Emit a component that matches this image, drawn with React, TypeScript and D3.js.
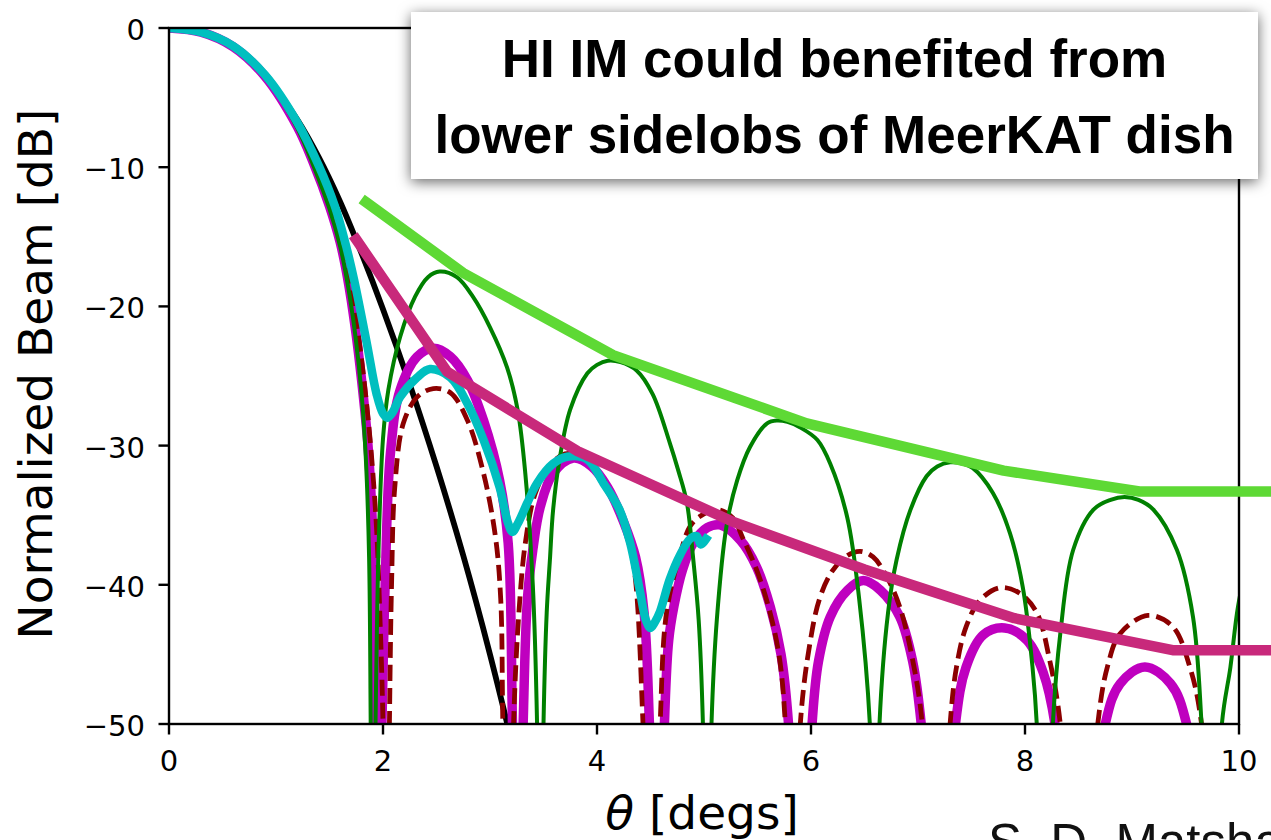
import React from "react";
import * as d3 from "d3";

type Pt = [number, number];

// axis ticks
const xTicks = [0, 2, 4, 6, 8, 10];
const xTickLabels = ["0", "2", "4", "6", "8", "10"];
const yTicks = [0, -10, -20, -30, -40, -50];
const yTickLabels = ["0", "\u221210", "\u221220", "\u221230", "\u221240", "\u221250"];

// beam patterns, [theta deg, dB]  (nulls given as -70, clipped at -50)
const blackBeam: Pt[] = [
  [0, 0], [0.3, -0.3], [0.6, -1.3], [0.9, -3.4], [1.2, -6.6], [1.4, -9.3], [1.6, -12.5],
  [1.8, -16.2], [2.0, -20.2], [2.25, -25.6], [2.5, -31.5], [2.75, -37.9], [3.0, -45.0], [3.25, -52.8],
];

const magentaBeam: Pt[] = [
  [0, 0], [0.3, -0.3], [0.6, -1.35], [0.9, -3.5], [1.2, -7.1], [1.35, -9.7], [1.5, -12.8], [1.6, -15.4],
  [1.67, -18.0], [1.74, -21.5], [1.8, -25.3], [1.86, -30], [1.9, -35.5], [1.92, -41], [1.94, -50], [1.965, -70],
  [1.99, -50], [2.02, -40], [2.07, -30.5], [2.16, -26], [2.32, -23.6], [2.47, -23.0], [2.63, -23.6], [2.79, -25.3],
  [2.94, -28.2], [3.09, -32.5], [3.17, -37], [3.21, -50], [3.26, -70],
  [3.31, -50], [3.35, -41], [3.4, -37.5], [3.47, -34.4], [3.59, -32.0], [3.78, -30.9], [3.95, -31.5], [4.1, -33],
  [4.25, -35.5], [4.36, -38], [4.44, -42], [4.49, -50], [4.56, -70],
  [4.63, -50], [4.67, -44], [4.72, -41.5], [4.8, -38.9], [4.9, -37.0], [5.03, -35.9], [5.15, -35.7], [5.34, -36.8],
  [5.49, -38.7], [5.62, -41.6], [5.72, -45], [5.79, -50], [5.9, -70],
  [6.01, -50], [6.07, -45.5], [6.18, -42.3], [6.34, -40.4], [6.49, -39.7], [6.65, -40.4], [6.83, -42.3],
  [6.95, -45.5], [7.03, -50], [7.2, -70],
  [7.35, -50], [7.45, -45.9], [7.61, -43.6], [7.81, -43.1], [8.02, -44.0], [8.17, -46.3], [8.28, -50], [8.5, -70],
  [8.75, -50], [8.89, -47.1], [9.12, -45.9], [9.36, -47.1], [9.51, -50], [9.8, -70],
];

const dashedBeam: Pt[] = [
  [0, 0], [0.3, -0.3], [0.6, -1.3], [0.9, -3.4], [1.2, -7.0], [1.4, -10.4], [1.55, -13.5], [1.68, -17.6],
  [1.76, -21.5], [1.83, -25.8], [1.89, -30.5], [1.94, -36], [1.97, -42], [2.0, -50], [2.03, -70],
  [2.06, -50], [2.08, -40], [2.11, -33], [2.19, -28.4], [2.32, -26.5], [2.47, -25.9], [2.63, -26.2], [2.79, -28.2],
  [2.94, -32.0], [3.05, -36.5], [3.1, -41], [3.12, -50], [3.17, -70],
  [3.22, -50], [3.27, -42], [3.33, -37], [3.42, -33.5], [3.55, -31.5], [3.7, -30.6], [3.85, -30.8], [4.0, -31.8],
  [4.15, -33.8], [4.28, -36.5], [4.35, -39], [4.43, -50], [4.51, -70],
  [4.59, -50], [4.65, -42], [4.78, -37.7], [4.87, -35.8], [4.96, -35.1], [5.12, -34.6], [5.27, -35.2], [5.36, -36.6],
  [5.49, -38.9], [5.6, -41.5], [5.7, -45], [5.76, -50], [5.83, -70],
  [5.9, -50], [5.99, -44.2], [6.08, -41.0], [6.2, -39.0], [6.34, -37.9], [6.46, -37.6], [6.58, -38.0], [6.7, -39.3],
  [6.83, -41.6], [6.95, -45.4], [7.04, -50], [7.17, -70],
  [7.3, -50], [7.36, -45.9], [7.45, -43.0], [7.58, -41.1], [7.77, -40.2], [7.95, -40.6], [8.11, -42.0], [8.23, -45.4],
  [8.33, -50], [8.5, -70],
  [8.68, -50], [8.77, -45.9], [8.89, -43.5], [9.15, -42.2], [9.38, -43.0], [9.54, -45.9], [9.65, -50], [9.8, -70],
];

const greenBeam: Pt[] = [
  [0, 0], [0.3, -0.3], [0.6, -1.35], [0.9, -3.5], [1.2, -7.2], [1.35, -9.9], [1.5, -13.0], [1.6, -15.7],
  [1.67, -18.4], [1.74, -22], [1.8, -26.3], [1.84, -31], [1.87, -38], [1.885, -50], [1.9, -70],
  [1.93, -50], [1.96, -37], [2.0, -29.5], [2.05, -26], [2.16, -22.2], [2.3, -19.3], [2.42, -17.9], [2.53, -17.5],
  [2.69, -17.9], [2.84, -19.3], [3.0, -21.5], [3.16, -24.4], [3.26, -27.5], [3.33, -32], [3.4, -40], [3.44, -50], [3.47, -70],
  [3.5, -50], [3.53, -42], [3.56, -38.2], [3.59, -34.6], [3.65, -31.0], [3.75, -27.4], [3.91, -24.8], [4.0, -24.2],
  [4.1, -23.9], [4.22, -24.0], [4.37, -24.6], [4.52, -26.3], [4.68, -29.8], [4.76, -31.8], [4.84, -34.1], [4.9, -38.2],
  [4.95, -42.5], [4.99, -50], [5.03, -70],
  [5.07, -50], [5.12, -42.5], [5.21, -35.8], [5.31, -32.5], [5.43, -30.1], [5.59, -28.4], [5.68, -28.2], [5.78, -28.3],
  [5.9, -28.7], [6.06, -29.6], [6.18, -31.3], [6.34, -35.2], [6.45, -41], [6.55, -50], [6.6, -70],
  [6.64, -50], [6.72, -42], [6.8, -38.2], [6.93, -34.6], [7.08, -32.2], [7.18, -31.5], [7.3, -31.2], [7.42, -31.3],
  [7.51, -31.6], [7.7, -33.4], [7.86, -36.3], [7.98, -40.2], [8.07, -45.9], [8.11, -50], [8.18, -70],
  [8.26, -50], [8.33, -43.5], [8.45, -37.5], [8.64, -34.6], [8.8, -33.9], [8.93, -33.7], [9.06, -33.9], [9.2, -34.6],
  [9.42, -37.5], [9.57, -42.3], [9.65, -50], [9.75, -70],
  [9.84, -50], [9.92, -45.9], [9.99, -41.6], [10.1, -37.5],
];

const cyanBeam: Pt[] = [
  [0, 0], [0.3, -0.3], [0.6, -1.3], [0.9, -3.4], [1.2, -6.8], [1.4, -9.9], [1.55, -12.8], [1.65, -15.5],
  [1.73, -18.1], [1.85, -22.7], [1.94, -26.3], [2.0, -27.7], [2.04, -28.0], [2.09, -27.6], [2.16, -26.5],
  [2.32, -25.1], [2.44, -24.5], [2.63, -25.1], [2.79, -27.0], [2.94, -29.6], [3.09, -33.0], [3.17, -35.6],
  [3.21, -36.2], [3.26, -35.6], [3.35, -34.1], [3.44, -32.7], [3.59, -31.3], [3.72, -30.8], [3.91, -31.0],
  [4.06, -32.7], [4.21, -34.6], [4.31, -37.0], [4.4, -40.4], [4.46, -42.6], [4.5, -43.1], [4.54, -42.7],
  [4.59, -41.9], [4.68, -39.6], [4.78, -37.8], [4.87, -36.7], [4.93, -36.5], [4.97, -37.1], [5.02, -36.7],
];

// sidelobe envelopes
const upperEnvelope: Pt[] = [
  [1.84, -12.5], [2.75, -17.6], [4.15, -23.5], [5.96, -28.4], [7.8, -31.8], [9.07, -33.3], [10.35, -33.3],
];
const lowerEnvelope: Pt[] = [
  [1.75, -15.2], [2.6, -24.7], [3.82, -30.4], [5.28, -35.5], [6.5, -38.9], [7.9, -42.4], [9.38, -44.7], [10.35, -44.7],
];

const W = 1271;
const H = 840;
const left = 169;
const right = 1239;
const top = 28;
const bottom = 724;

const tickFont = "'DejaVu Sans', sans-serif";
const boxFont = "'Liberation Sans', Arial, Helvetica, sans-serif";

export default function App() {
  const x = d3.scaleLinear().domain([0, 10]).range([left, right]);
  const y = d3.scaleLinear().domain([-50, 0]).range([bottom, top]);

  const curved = d3
    .line<Pt>()
    .x((d) => x(d[0]))
    .y((d) => y(d[1]))
    .curve(d3.curveCatmullRom.alpha(0.5));
  const straight = d3
    .line<Pt>()
    .x((d) => x(d[0]))
    .y((d) => y(d[1]));

  const beams = [
    { data: blackBeam, color: "#000000", width: 5.8, dash: undefined },
    { data: magentaBeam, color: "#bf00bf", width: 9.5, dash: undefined },
    { data: dashedBeam, color: "#8b0000", width: 4.8, dash: "16,7" },
    { data: greenBeam, color: "#008000", width: 4, dash: undefined },
    { data: cyanBeam, color: "#00bfbf", width: 8.5, dash: undefined },
  ];

  return (
    <svg
      width={W}
      height={H}
      viewBox={`0 0 ${W} ${H}`}
      style={{ position: "absolute", left: 0, top: 0, background: "#fff" }}
    >
      <defs>
        <clipPath id="plotArea">
          <rect x={left} y={top} width={right - left} height={bottom - top} />
        </clipPath>
        <filter id="boxShadow" x="-10%" y="-30%" width="120%" height="160%">
          <feDropShadow dx="0" dy="3" stdDeviation="7" floodColor="#000" floodOpacity="0.6" />
        </filter>
      </defs>
      <rect x={0} y={0} width={W} height={H} fill="#fff" />

      <g clipPath="url(#plotArea)">
        {beams.map((b, i) => (
          <path
            key={i}
            d={curved(b.data) || ""}
            fill="none"
            stroke={b.color}
            strokeWidth={b.width}
            strokeDasharray={b.dash}
            strokeLinejoin="round"
            strokeLinecap={b.dash ? "butt" : "square"}
          />
        ))}
      </g>

      {/* spines */}
      <g stroke="#000" strokeWidth={2.4} fill="none">
        <rect x={left} y={top} width={right - left} height={bottom - top} />
      </g>

      {/* ticks */}
      <g fontFamily={tickFont} fontSize={29} fill="#000">
        {xTicks.map((t, i) => (
          <g key={"x" + t}>
            <line x1={x(t)} x2={x(t)} y1={bottom} y2={bottom + 10.5} stroke="#000" strokeWidth={2.4} />
            <text x={x(t)} y={771} textAnchor="middle">
              {xTickLabels[i]}
            </text>
          </g>
        ))}
        {yTicks.map((t, i) => (
          <g key={"y" + t}>
            <line x1={left - 10.5} x2={left} y1={y(t)} y2={y(t)} stroke="#000" strokeWidth={2.4} />
            <text x={145} y={y(t) + 12} textAnchor="end">
              {yTickLabels[i]}
            </text>
          </g>
        ))}
      </g>

      {/* axis labels */}
      <text
        transform={`translate(52, 374) rotate(-90)`}
        textAnchor="middle"
        fontFamily={tickFont}
        fontSize={47}
        fill="#000"
      >
        Normalized Beam [dB]
      </text>
      <text x={702} y={829} textAnchor="middle" fontFamily={tickFont} fontSize={47} fill="#000">
        <tspan fontStyle="italic">θ</tspan> [degs]
      </text>

      {/* envelopes */}
      <path
        d={straight(upperEnvelope) || ""}
        fill="none"
        stroke="#5ed935"
        strokeWidth={10.5}
        strokeLinejoin="round"
        strokeLinecap="square"
      />
      <path
        d={straight(lowerEnvelope) || ""}
        fill="none"
        stroke="#c8297b"
        strokeWidth={10.5}
        strokeLinejoin="round"
        strokeLinecap="square"
      />

      {/* annotation box */}
      <rect x={411} y={12} width={847} height={167} fill="#fff" filter="url(#boxShadow)" />
      <g fontFamily={boxFont} fontWeight="bold" fontSize={53} fill="#000" textAnchor="middle">
        <text x={834.5} y={77}>HI IM could benefited from</text>
        <text x={834.5} y={153}>lower sidelobs of MeerKAT dish</text>
      </g>

      <text x={988} y={860} fontFamily={boxFont} fontSize={51} fill="#111">
        S. D. Matshawule
      </text>
    </svg>
  );
}
